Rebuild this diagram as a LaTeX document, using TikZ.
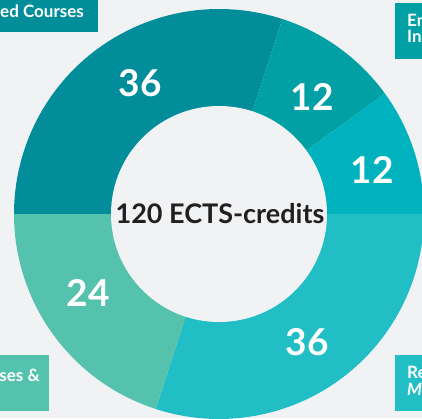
\documentclass[tikz,border=0pt]{standalone}
\usepackage{fontspec}
\setmainfont{Lato}
\usepackage{tikz}
\usetikzlibrary{calc}

\definecolor{bgcol}{HTML}{F1F2F4}
\definecolor{segone}{HTML}{018D9A}
\definecolor{segtwo}{HTML}{00A0A5}
\definecolor{segthree}{HTML}{00B2BE}
\definecolor{segfour}{HTML}{22BEC6}
\definecolor{segfive}{HTML}{55C2AD}
\definecolor{txtdark}{HTML}{231F20}

\tikzset{
  credits/.style={text=white, font=\fontsize{37}{37}\selectfont\bfseries},
  boxtext/.style={text=white, font=\fontsize{17}{17}\selectfont\bfseries, inner sep=0pt},
}

\begin{document}
\begin{tikzpicture}[x=1pt, y=1pt]
        \useasboundingbox (0, 0) rectangle (422, 418);
        \fill[bgcol] (0, 0) rectangle (422, 418);
        \coordinate (ctr) at (219, 204);
        % the five slices, clockwise from the left
        \fill[segone] (ctr) -- ++(180:205) arc[start angle=180, end angle=72, radius=205] -- cycle;
        \fill[segtwo] (ctr) -- ++(72:205) arc[start angle=72, end angle=36, radius=205] -- cycle;
        \fill[segthree] (ctr) -- ++(36:205) arc[start angle=36, end angle=0, radius=205] -- cycle;
        \fill[segfour] (ctr) -- ++(0:205) arc[start angle=0, end angle=-108, radius=205] -- cycle;
        \fill[segfive] (ctr) -- ++(-108:205) arc[start angle=-108, end angle=-180, radius=205] -- cycle;
        \fill[bgcol] (ctr) circle (108);
        \node[text=txtdark, font=\fontsize{27}{27}\selectfont\bfseries] (total) at (220, 204) {120 ECTS-credits};
        \node[credits] (adv) at (140, 335) {36};
        \node[credits] (ela) at (312, 321) {12};
        \node[credits] (elb) at (372, 248) {12};
        \node[credits] (res) at (307, 76) {36};
        \node[credits] (fnd) at (88, 125) {24};
        % cut-off labels at the corners
        \fill[segone] (-2, 386) rectangle (98, 420);
        \node[boxtext, anchor=base west] (advlab) at (0, 400) {ed Courses};
        \fill[segtwo] (395, 359) rectangle (425, 415);
        \node[boxtext, anchor=base west] (ellab) at (407, 391) {En};
        \node[boxtext, anchor=base west] (ellabb) at (407, 375) {In};
        \fill[segfour] (395, 7) rectangle (425, 63);
        \node[boxtext, anchor=base west] (reslab) at (407, 40) {Re};
        \node[boxtext, anchor=base west] (reslabb) at (407, 23) {\itshape M};
        \fill[segfive] (-2, 7) rectangle (49, 63);
        \node[boxtext, anchor=base east] (fndlab) at (40, 37) {ses \&};
      \end{tikzpicture}
\end{document}
